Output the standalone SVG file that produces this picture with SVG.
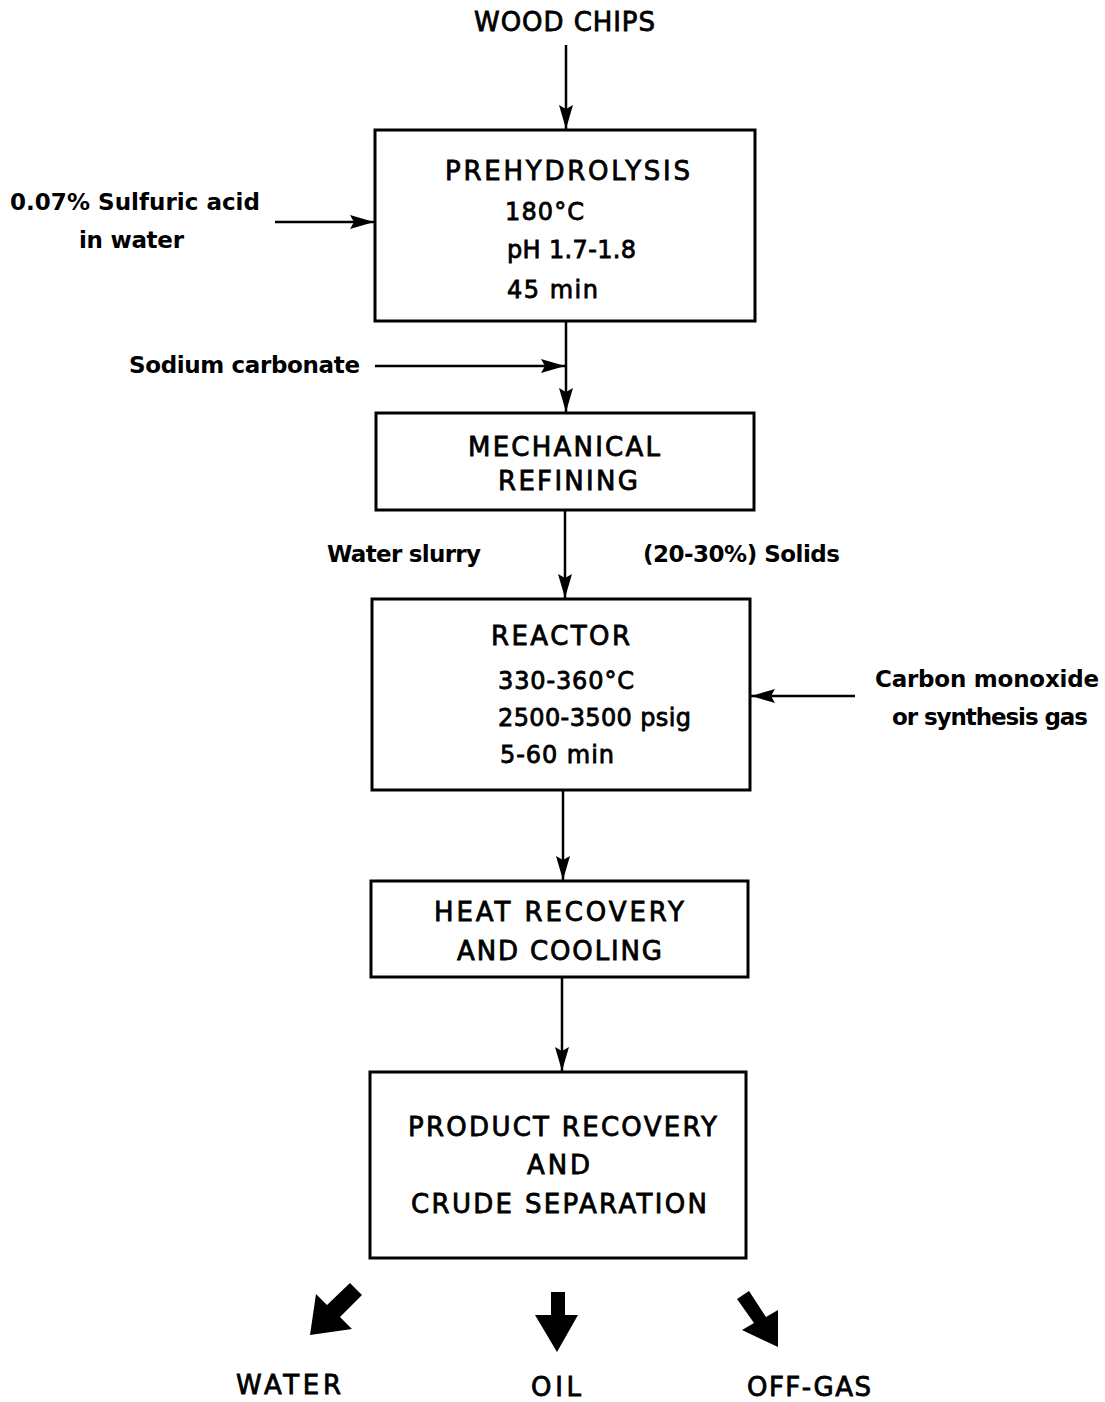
<svg xmlns="http://www.w3.org/2000/svg" width="1105" height="1402" viewBox="0 0 1105 1402">
<style>
.box{fill:none;stroke:#000;stroke-width:3}
.ln{stroke:#000;stroke-width:2.5;fill:none}
.t{font-family:"DejaVu Sans","Liberation Sans",Arial,sans-serif;font-size:26px;fill:#000;stroke:#000;stroke-width:0.8}
.n{font-size:24px}
.s{font-family:"DejaVu Sans","Liberation Sans",Arial,sans-serif;font-size:23px;font-weight:bold;fill:#000}
</style>
<defs>
<marker id="ah2" viewBox="0 0 24 14" refX="24" refY="7" markerWidth="24" markerHeight="14" markerUnits="userSpaceOnUse" orient="auto"><path d="M0,0 L24,7 L0,14 L4,7 Z" fill="#000"/></marker>
</defs>
<rect width="1105" height="1402" fill="#fff"/>
<g id="connectors">
<line class="ln" x1="566" y1="45" x2="566" y2="129" marker-end="url(#ah2)"/>
<line class="ln" x1="275" y1="222" x2="374" y2="222" marker-end="url(#ah2)"/>
<line class="ln" x1="566" y1="321" x2="566" y2="412" marker-end="url(#ah2)"/>
<line class="ln" x1="375" y1="366" x2="565" y2="366" marker-end="url(#ah2)"/>
<line class="ln" x1="565" y1="510" x2="565" y2="598" marker-end="url(#ah2)"/>
<line class="ln" x1="855" y1="696" x2="751" y2="696" marker-end="url(#ah2)"/>
<line class="ln" x1="563" y1="790" x2="563" y2="880" marker-end="url(#ah2)"/>
<line class="ln" x1="562" y1="977" x2="562" y2="1071" marker-end="url(#ah2)"/>
</g>
<text id="woodchips" class="t" x="474" y="31" textLength="181">WOOD CHIPS</text>
<g id="prehydrolysis">
<rect class="box" x="375" y="130" width="380" height="191"/>
<text class="t" x="445" y="180" textLength="245">PREHYDROLYSIS</text>
<text class="t n" x="505" y="220" textLength="79">180°C</text>
<text class="t n" x="507" y="258" textLength="129">pH 1.7-1.8</text>
<text class="t n" x="507" y="298" textLength="91">45 min</text>
</g>
<g id="acid">
<text class="s" x="10" y="210" textLength="250">0.07% Sulfuric acid</text>
<text class="s" x="79" y="248" textLength="105">in water</text>
</g>
<text id="soda" class="s" x="129" y="373" textLength="231">Sodium carbonate</text>
<g id="mech">
<rect class="box" x="376" y="413" width="378" height="97"/>
<text class="t" x="468" y="456" textLength="192">MECHANICAL</text>
<text class="t" x="498" y="490" textLength="140">REFINING</text>
</g>
<text id="slurry" class="s" x="327" y="562" textLength="154">Water slurry</text>
<text id="solids" class="s" x="643" y="562" textLength="197">(20-30%) Solids</text>
<g id="reactor">
<rect class="box" x="372" y="599" width="378" height="191"/>
<text class="t" x="491" y="645" textLength="139">REACTOR</text>
<text class="t n" x="498" y="689" textLength="136">330-360°C</text>
<text class="t n" x="498" y="726" textLength="193">2500-3500 psig</text>
<text class="t n" x="500" y="763" textLength="114">5-60 min</text>
</g>
<g id="co">
<text class="s" x="875" y="687" textLength="224">Carbon monoxide</text>
<text class="s" x="892" y="725" textLength="196">or synthesis gas</text>
</g>
<g id="heat">
<rect class="box" x="371" y="881" width="377" height="96"/>
<text class="t" x="434" y="921" textLength="250">HEAT RECOVERY</text>
<text class="t" x="457" y="960" textLength="205">AND COOLING</text>
</g>
<g id="product">
<rect class="box" x="370" y="1072" width="376" height="186"/>
<text class="t" x="408" y="1136" textLength="309">PRODUCT RECOVERY</text>
<text class="t" x="527" y="1174" textLength="63">AND</text>
<text class="t" x="411" y="1213" textLength="296">CRUDE SEPARATION</text>
</g>
<g id="water">
<path d="M310,1335 L316,1294 L327,1305 L350,1283 L362,1295 L340,1317 L352,1329 Z" fill="#000"/>
<text class="t" x="236" y="1394" textLength="105">WATER</text>
</g>
<g id="oil">
<path d="M551,1292 L565,1292 L565,1315 L578,1315 L557,1352 L535,1315 L551,1315 Z" fill="#000"/>
<text class="t" x="531" y="1396" textLength="50">OIL</text>
</g>
<g id="offgas">
<path d="M778,1347 L742,1330 L754,1323 L737,1299 L749,1291 L766,1317 L778,1310 Z" fill="#000"/>
<text class="t" x="747" y="1396" textLength="124">OFF-GAS</text>
</g>
</svg>
